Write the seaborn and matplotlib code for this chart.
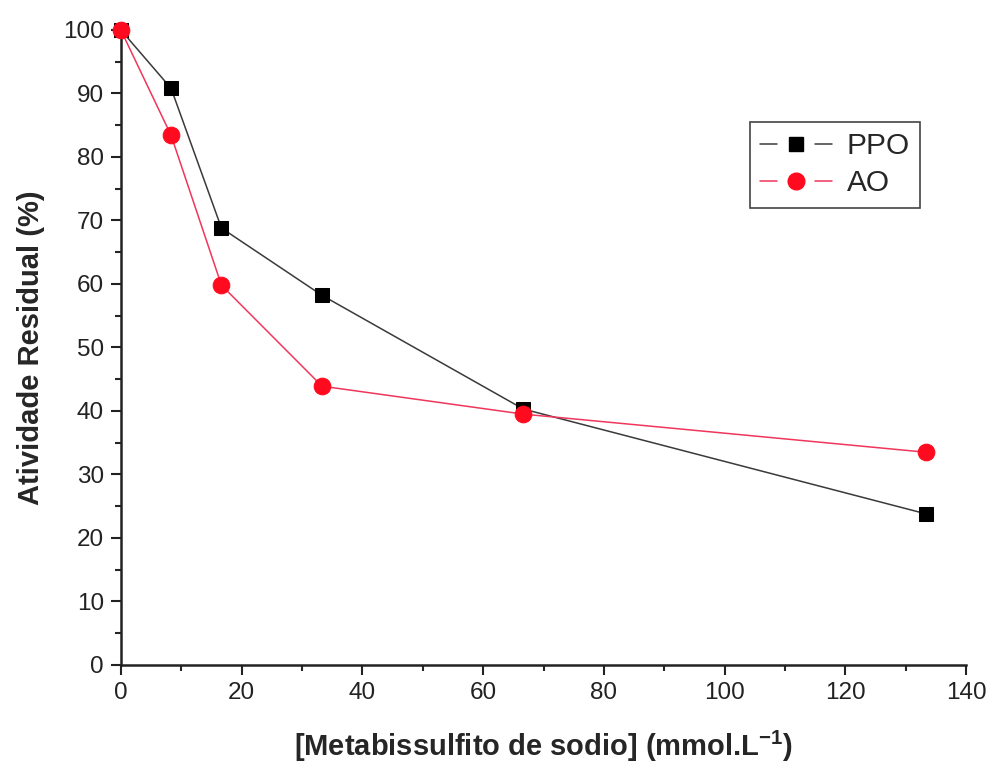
import matplotlib
matplotlib.use("Agg")
import matplotlib.pyplot as plt
from matplotlib.lines import Line2D
from matplotlib.legend_handler import HandlerLine2D
from matplotlib.ticker import MultipleLocator
import pandas as pd
import seaborn as sns

# Sodium metabisulfite concentration (mmol/L) and residual activity (%)
concentration = [0.0, 8.33, 16.67, 33.33, 66.67, 133.33]
ppo_activity = [100.0, 90.8, 68.8, 58.2, 40.3, 23.8]
ao_activity = [100.0, 83.4, 59.8, 43.9, 39.5, 33.5]

series_names = ["PPO", "AO"]

df = pd.concat([
    pd.DataFrame({"conc": concentration, "activity": ppo_activity, "enzyme": "PPO"}),
    pd.DataFrame({"conc": concentration, "activity": ao_activity, "enzyme": "AO"}),
], ignore_index=True)


class GappedLineHandler(HandlerLine2D):
    """Legend key with a line broken on both sides of the marker."""

    def create_artists(self, legend, orig_handle, xdescent, ydescent, width, height,
                       fontsize, trans):
        y = height / 2.0 - ydescent
        gap = 0.26 * width
        mid = width / 2.0 - xdescent
        artists = []
        for x0, x1 in ((-xdescent, mid - gap), (mid + gap, width - xdescent)):
            seg = Line2D([x0, x1], [y, y], color=orig_handle.get_color(),
                         linewidth=orig_handle.get_linewidth(), transform=trans)
            artists.append(seg)
        mk = Line2D([mid], [y], linestyle="none", marker=orig_handle.get_marker(),
                    markersize=orig_handle.get_markersize(),
                    markerfacecolor=orig_handle.get_markerfacecolor(),
                    markeredgecolor=orig_handle.get_markeredgecolor(), transform=trans)
        artists.append(mk)
        return artists


sns.set_style("ticks")
plt.rcParams["font.family"] = ["Liberation Sans", "DejaVu Sans"]

fig = plt.figure(figsize=(9.9, 7.67), dpi=100)
ax = fig.add_axes([0.122, 0.133, 0.854, 0.828])

styles = {
    "PPO": dict(color="#3a3a3a", marker="s", markersize=10, markerfacecolor="black",
                markeredgecolor="black"),
    "AO": dict(color="#f0365a", marker="o", markersize=12, markerfacecolor="#ff0a1e",
               markeredgecolor="#ff0a1e"),
}

for name in series_names:
    sub = df[df["enzyme"] == name]
    sns.lineplot(data=sub, x="conc", y="activity", ax=ax, label=name,
                 linewidth=1.1, clip_on=False, zorder=3, **styles[name])

ax.set_xlim(0, 140)
ax.set_ylim(0, 100)
ax.xaxis.set_major_locator(MultipleLocator(20))
ax.xaxis.set_minor_locator(MultipleLocator(10))
ax.yaxis.set_major_locator(MultipleLocator(10))
ax.yaxis.set_minor_locator(MultipleLocator(5))
ax.tick_params(which="major", direction="out", length=7, width=1.5, labelsize=17.5,
               colors="#222222", pad=5)
ax.tick_params(which="minor", direction="out", length=4, width=1.5)

sns.despine(ax=ax)
for side in ("left", "bottom"):
    ax.spines[side].set_linewidth(1.8)
    ax.spines[side].set_color("#222222")

ax.set_xlabel("[Metabissulfito de sodio] (mmol.L$^{\\mathregular{-1}}$)",
              fontsize=21, fontweight="bold", labelpad=18)
ax.set_ylabel("Atividade Residual (%)", fontsize=21, fontweight="bold", labelpad=13)

handles, labels = ax.get_legend_handles_labels()
leg = ax.legend(handles, labels, loc="upper left", bbox_to_anchor=(0.744, 0.855),
                fontsize=21.5, frameon=True, fancybox=False, edgecolor="#444444",
                framealpha=1, handlelength=2.4, handletextpad=0.5, borderpad=0.35,
                labelspacing=0.3, borderaxespad=0,
                handler_map={Line2D: GappedLineHandler()})
leg.get_frame().set_linewidth(1.2)

fig.savefig("out.png", dpi=100, facecolor="white")
